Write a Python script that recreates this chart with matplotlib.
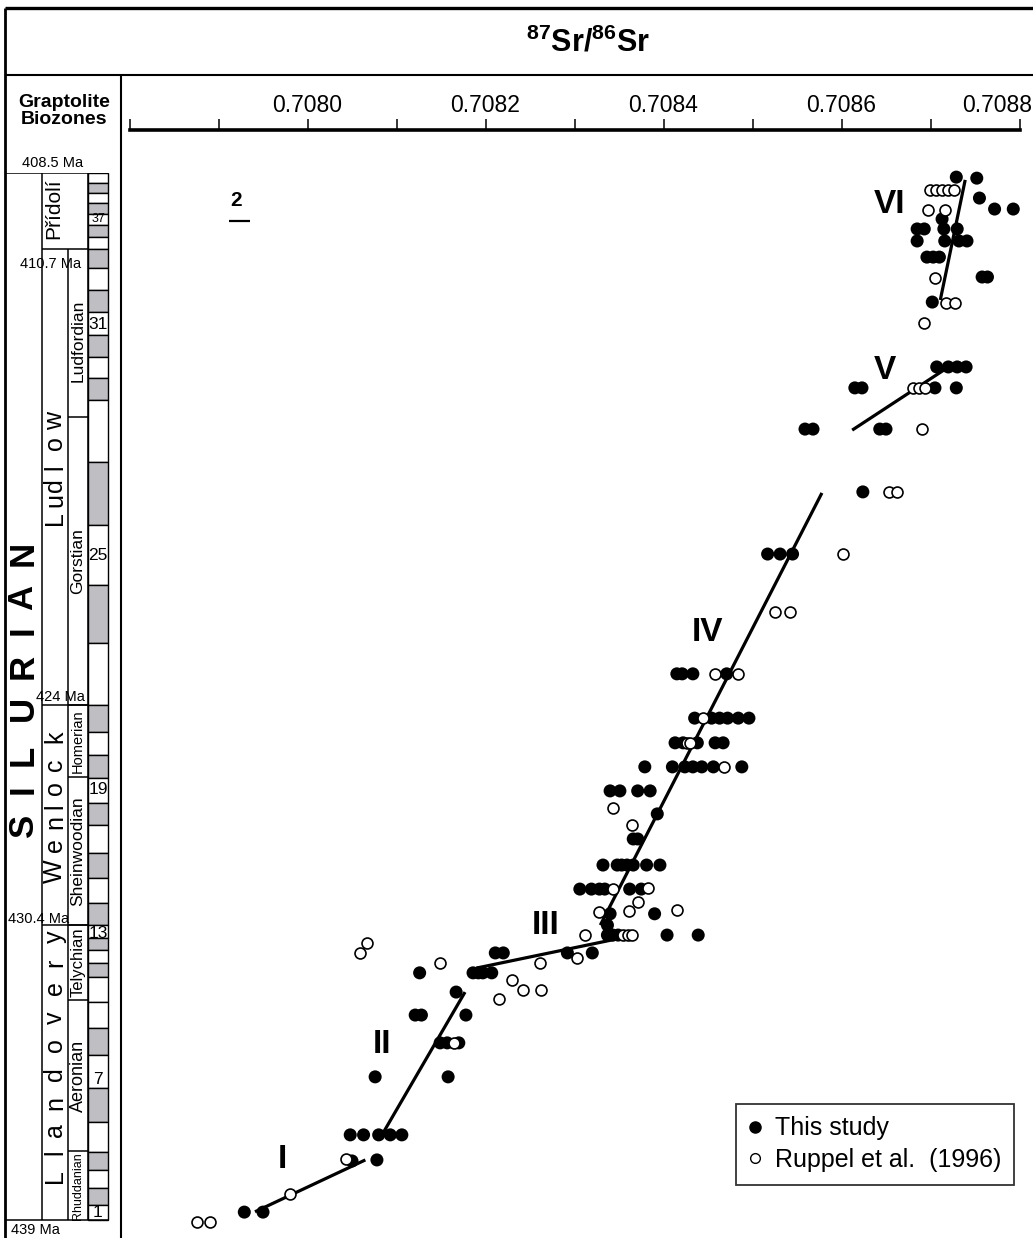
import numpy as np
import matplotlib
matplotlib.use("Agg")
import matplotlib.pyplot as plt
from matplotlib.lines import Line2D
from matplotlib.transforms import ScaledTranslation

plt.rcParams['font.family'] = ['Liberation Sans', 'DejaVu Sans']
plt.rcParams['mathtext.fontset'] = 'custom'
plt.rcParams['mathtext.rm'] = 'Liberation Sans'
plt.rcParams['mathtext.bf'] = 'Liberation Sans:bold'

#%% data

# this study: (age in Ma, [87Sr/86Sr values at that level])
this_rows = [
    (438.77, [0.707929, 0.707950]),
    (437.28, [0.708050]),
    (437.25, [0.708078]),
    (436.52, [0.708048, 0.708063, 0.708080, 0.708093, 0.708106]),
    (434.83, [0.708076, 0.708158]),
    (433.84, [0.708149, 0.708157, 0.708170]),
    (433.03, [0.708121, 0.708128, 0.708178]),
    (432.36, [0.708167]),
    (431.80, [0.708126, 0.708186, 0.708192, 0.708197, 0.708207]),
    (431.22, [0.708211, 0.708220, 0.708292, 0.708320]),
    (430.70, [0.708337, 0.708343, 0.708349, 0.708404, 0.708439]),
    (430.41, [0.708337]),
    (430.08, [0.708340, 0.708390]),
    (429.36, [0.708306, 0.708319, 0.708328, 0.708334, 0.708362, 0.708375]),
    (428.66, [0.708332, 0.708348, 0.708353, 0.708359, 0.708366, 0.708381, 0.708396]),
    (427.90, [0.708366, 0.708371]),
    (427.17, [0.708393]),
    (426.50, [0.708340, 0.708351, 0.708371, 0.708385]),
    (425.80, [0.708379, 0.708410, 0.708424, 0.708433, 0.708443, 0.708456, 0.708488]),
    (425.10, [0.708413, 0.708422, 0.708438, 0.708458, 0.708467]),
    (424.38, [0.708435, 0.708454, 0.708463, 0.708472, 0.708484, 0.708496]),
    (423.09, [0.708415, 0.708421, 0.708433, 0.708471]),
    (419.60, [0.708517, 0.708531, 0.708545]),
    (417.79, [0.708624]),
    (415.96, [0.708559, 0.708568, 0.708643, 0.708650]),
    (414.76, [0.708615, 0.708623, 0.708705, 0.708729]),
    (414.15, [0.708707, 0.708720, 0.708730, 0.708740]),
    (408.62, [0.708729]),
    (408.65, [0.708752]),
    (409.23, [0.708755]),
    (409.55, [0.708772, 0.708793]),
    (409.84, [0.708713]),
    (410.13, [0.708685, 0.708693, 0.708715, 0.708730]),
    (410.48, [0.708685, 0.708716, 0.708732, 0.708741]),
    (410.95, [0.708696, 0.708703, 0.708710]),
    (411.53, [0.708758, 0.708764]),
    (412.26, [0.708702]),
]

# Ruppel et al. (1996)
ruppel_rows = [
    (439.06, [0.707876, 0.707890]),
    (438.24, [0.707980]),
    (437.22, [0.708043]),
    (433.84, [0.708165]),
    (432.56, [0.708215]),
    (432.30, [0.708242, 0.708262]),
    (432.01, [0.708230]),
    (431.51, [0.708149, 0.708261]),
    (431.37, [0.708303]),
    (431.22, [0.708059]),
    (430.93, [0.708067]),
    (430.70, [0.708312, 0.708354, 0.708360, 0.708365]),
    (430.03, [0.708328]),
    (430.00, [0.708361]),
    (429.97, [0.708415]),
    (429.74, [0.708371]),
    (429.36, [0.708343]),
    (429.33, [0.708383]),
    (427.49, [0.708365]),
    (427.00, [0.708343]),
    (425.80, [0.708468]),
    (425.10, [0.708426, 0.708430]),
    (424.38, [0.708444]),
    (423.09, [0.708458, 0.708484]),
    (421.29, [0.708525, 0.708542]),
    (419.60, [0.708602]),
    (417.79, [0.708653, 0.708662]),
    (415.96, [0.708690]),
    (414.76, [0.708680, 0.708687, 0.708694]),
    (412.87, [0.708693]),
    (412.29, [0.708717, 0.708728]),
    (411.56, [0.708705]),
    (409.58, [0.708697, 0.708716]),
    (409.00, [0.708699, 0.708706, 0.708713, 0.708720, 0.708726]),
]

this_sr = [v for a, row in this_rows for v in row]
this_age = [a for a, row in this_rows for v in row]
ruppel_sr = [v for a, row in ruppel_rows for v in row]
ruppel_age = [a for a, row in ruppel_rows for v in row]

# trend segments
trend_labels = ['I', 'II', 'III', 'IV', 'V', 'VI']
trend_sr = [[0.707941, 0.708065], [0.708083, 0.708177], [0.708190, 0.708348],
            [0.708329, 0.708578], [0.708612, 0.708715], [0.708711, 0.708739]]
trend_age = [[438.76, 437.25], [436.55, 432.36], [431.66, 430.81],
             [430.41, 417.82], [415.99, 414.24], [412.20, 408.70]]
label_sr = [0.707972, 0.708084, 0.708267, 0.708449, 0.708649, 0.708654]
label_age = [437.25, 433.90, 430.41, 421.90, 414.24, 409.43]

sr_ticks = [0.7078, 0.7079, 0.7080, 0.7081, 0.7082, 0.7083, 0.7084, 0.7085, 0.7086, 0.7087, 0.7088]
sr_ticklabels = ['', '', '0.7080', '', '0.7082', '', '0.7084', '', '0.7086', '', '0.7088']

legend_labels = ['This study', 'Ruppel et al.  (1996)']

# stratigraphy
series_bounds = [408.5, 410.7, 424.0, 430.4, 439.0]
stage_names = ['Ludfordian', 'Gorstian', 'Homerian', 'Sheinwoodian', 'Telychian', 'Aeronian', 'Rhuddanian']
stage_bounds = [410.7, 415.6, 424.0, 426.1, 430.4, 432.6, 437.0, 439.0]
zone_bounds = [408.5, 408.79, 409.08, 409.37, 409.69, 410.01, 410.36, 410.7, 411.27, 411.91,
               412.55, 413.22, 413.86, 414.47, 415.11, 416.92, 418.75, 420.50, 422.19, 424.0,
               424.79, 425.45, 426.12, 426.85, 427.49, 428.31, 429.04, 429.76, 430.4, 430.78,
               431.13, 431.51, 431.92, 432.65, 433.41, 434.19, 435.15, 436.14, 437.02, 437.54,
               438.07, 438.56, 439.0]
zone_grey = [0, 1, 0, 1, 0, 1, 0, 1, 0, 1,
             0, 1, 0, 1, 0, 1, 0, 1, 0, 1,
             0, 1, 0, 1, 0, 1, 0, 1, 0, 1,
             0, 1, 0, 0, 1, 0, 1, 0, 1, 0,
             1, 0]
zone_numbers = ['37', '31', '25', '19', '13', '7', '1']
zone_number_age = [409.84, 412.90, 419.63, 426.47, 430.64, 434.92, 438.77]
ma_labels = ['408.5 Ma', '410.7 Ma', '424 Ma', '430.4 Ma', '439 Ma']

#%% layout

W, H = 1033, 1238
fig = plt.figure(figsize=(W / 100, H / 100), dpi=100)


def rect(x0, y0, x1, y1):
    return [x0 / W, 1 - y1 / H, (x1 - x0) / W, (y1 - y0) / H]


def ptext(x, y, s, **kw):
    kw.setdefault('ha', 'center')
    kw.setdefault('va', 'center')
    return fig.text(x / W, 1 - y / H, s, **kw)


def fline(xs, ys, lw=1.5):
    fig.add_artist(Line2D([x / W for x in xs], [1 - y / H for y in ys],
                          transform=fig.transFigure, color='black', lw=lw,
                          solid_capstyle='butt'))


px_per_ma = (1220 - 173) / (439.0 - 408.5)
age_bottom = 408.5 + (H - 173) / px_per_ma

# outer frame
fline([5, W], [8, 8], lw=2.4)
fline([5, 5], [8, H], lw=2.0)
fline([5, W], [75, 75], lw=1.5)
fline([121, 121], [75, H], lw=1.5)

ptext(588, 43, r'$\mathbf{^{87}Sr/^{86}Sr}$', fontsize=22)
ptext(64, 111, 'Graptolite\nBiozones', fontsize=14, fontweight='bold', linespacing=1.0)

#%% main plot

ax = fig.add_axes(rect(129.5, 173, 1019.5, H))
ax.set_xlim(0.7078, 0.7088)
ax.set_ylim(age_bottom, 408.5)
for s in ['bottom', 'left', 'right']:
    ax.spines[s].set_visible(False)
ax.spines['top'].set_position(('outward', 31))
ax.spines['top'].set_linewidth(2.6)
ax.xaxis.tick_top()
ax.set_xticks(sr_ticks)
ax.set_xticklabels(sr_ticklabels, fontsize=16.5)
ax.tick_params(axis='x', direction='out', length=8, width=1.1, pad=1.5)
last = ax.get_xticklabels()[-1]
last.set_ha('right')
last.set_transform(last.get_transform() + ScaledTranslation(0.13, 0, fig.dpi_scale_trans))
ax.set_yticks([])
ax.patch.set_visible(False)

ax.scatter(this_sr, this_age, s=88, c='black', edgecolors='none', zorder=3, clip_on=False)
for xs, ys in zip(trend_sr, trend_age):
    ax.plot(xs, ys, color='black', lw=2.3, solid_capstyle='butt', zorder=4)
ax.scatter(ruppel_sr, ruppel_age, s=62, facecolors='white', edgecolors='black',
           linewidths=1.2, zorder=5, clip_on=False)

for lab, x, y in zip(trend_labels, label_sr, label_age):
    ax.text(x, y, lab, fontsize=24, fontweight='bold', ha='center', va='center')

ptext(236, 200, '2', fontsize=15, fontweight='bold')
fline([229, 250], [221, 221], lw=1.6)

h1 = Line2D([], [], marker='o', ls='', mfc='black', mec='black', ms=8)
h2 = Line2D([], [], marker='o', ls='', mfc='white', mec='black', ms=7, mew=1.0)
leg = fig.legend([h1, h2], legend_labels, loc='upper left',
                 bbox_to_anchor=(736 / W, 1 - 1104 / H), frameon=True, fancybox=False,
                 edgecolor='black', fontsize=18, handlelength=0.55, handletextpad=0.5,
                 labelspacing=0.3, borderpad=0.5, borderaxespad=0)
leg.get_frame().set_linewidth(1.3)

#%% stratigraphic column

axc = fig.add_axes(rect(0, 173, 121, H))
axc.set_xlim(0, 121)
axc.set_ylim(age_bottom, 408.5)
axc.axis('off')

tops = np.array(zone_bounds[:-1])
dur = np.diff(zone_bounds)
cols = ['#bebec3' if g else 'white' for g in zone_grey]
axc.bar(98, dur, bottom=tops, width=20, color=cols, edgecolor='black', linewidth=1.0)

lw_c = 1.1
axc.vlines(42, 408.5, 439.0, color='black', lw=lw_c)
axc.vlines(68, 410.7, 439.0, color='black', lw=lw_c)
axc.vlines(88, 408.5, 439.0, color='black', lw=lw_c)
axc.hlines([408.5, 439.0], 5, 108, color='black', lw=lw_c)
axc.hlines(series_bounds[1:4], 42, 88, color='black', lw=lw_c)
axc.hlines(stage_bounds[1:-1], 68, 88, color='black', lw=lw_c)

for lab, y in zip(zone_numbers, zone_number_age):
    axc.text(98, y, lab, fontsize=9 if lab == '37' else 12.5, ha='center', va='center')

stage_sizes = [12.5, 12.5, 10.5, 12.5, 12, 13, 9]
for name, a0, a1, fs in zip(stage_names, stage_bounds[:-1], stage_bounds[1:], stage_sizes):
    axc.text(78, (a0 + a1) / 2 + 0.25 * (name == 'Ludfordian'), name, fontsize=fs,
             rotation=90, ha='center', va='center')

ptext(54, 209, 'Přídolí', fontsize=15, rotation=90)

# spaced series / system letters (pixel centres)
for ch, y in zip('Ludlow', [518, 500, 485, 467, 443, 421]):
    ptext(55, y, ch, fontsize=18, rotation=90)
for ch, y in zip('Wenlock', [871, 845, 822, 806, 788, 765, 737]):
    ptext(55, y, ch, fontsize=18, rotation=90)
for ch, y in zip('Llandovery', [1176, 1152, 1130, 1103, 1074, 1045, 1018, 988, 963, 937]):
    ptext(55, y, ch, fontsize=18, rotation=90)
for ch, y in zip('SILURIAN', [825, 789, 755, 708, 666, 630, 597, 553]):
    ptext(23, y, ch, fontsize=25, fontweight='bold', rotation=90)

for lab, (x, y) in zip(ma_labels, [(53, 163), (51, 264), (60, 697), (39, 919), (35, 1230)]):
    ptext(x, y, lab, fontsize=10.5)

fig.savefig('out.png', dpi=100)
